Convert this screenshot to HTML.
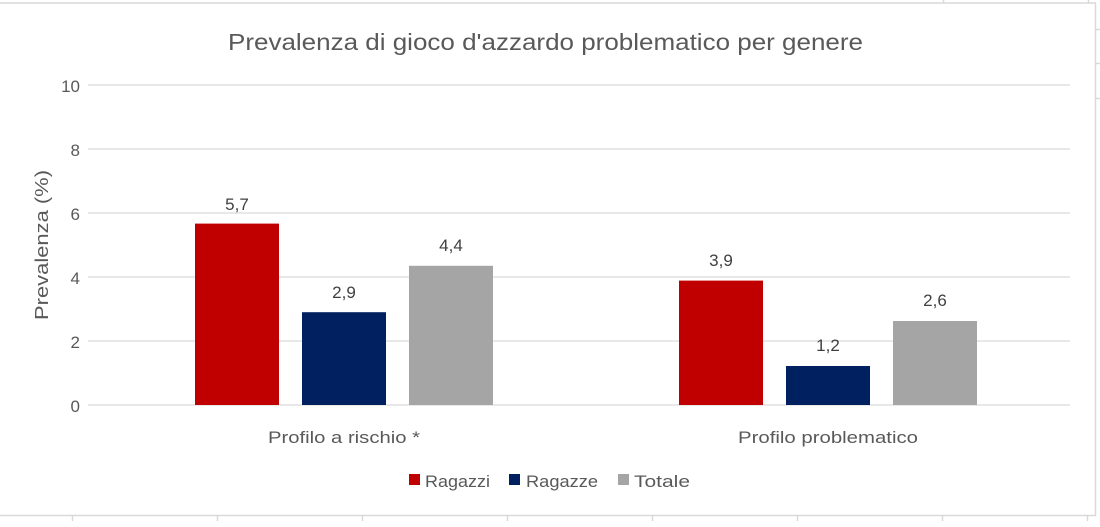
<!DOCTYPE html>
<html><head><style>
body{margin:0;background:#fff;}
svg text{font-family:"Liberation Sans",sans-serif;}
</style></head><body>
<svg width="1100" height="522" xmlns="http://www.w3.org/2000/svg">
<rect width="1100" height="522" fill="#fff"/>
<g stroke="#d9d9d9" stroke-width="1.5">
<line x1="0" y1="3" x2="1096" y2="3"/>
<line x1="1095.5" y1="3" x2="1095.5" y2="516"/>
<line x1="0" y1="515.5" x2="1096" y2="515.5"/>
<line x1="72.5" y1="515" x2="72.5" y2="521"/>
<line x1="217.5" y1="515" x2="217.5" y2="521"/>
<line x1="362.5" y1="515" x2="362.5" y2="521"/>
<line x1="507.5" y1="515" x2="507.5" y2="521"/>
<line x1="652.5" y1="515" x2="652.5" y2="521"/>
<line x1="797.5" y1="515" x2="797.5" y2="521"/>
<line x1="942.5" y1="515" x2="942.5" y2="521"/>
<line x1="1087.5" y1="515" x2="1087.5" y2="521"/>
<line x1="943.5" y1="0" x2="943.5" y2="3"/>
<line x1="1088.5" y1="0" x2="1088.5" y2="3"/>
<line x1="1095" y1="29.5" x2="1100" y2="29.5"/>
<line x1="1095" y1="63.5" x2="1100" y2="63.5"/>
<line x1="1095" y1="98.5" x2="1100" y2="98.5"/>
</g>
<g stroke="#d9d9d9" stroke-width="1.3">
<line x1="88" y1="85" x2="1070" y2="85"/>
<line x1="88" y1="149" x2="1070" y2="149"/>
<line x1="88" y1="213" x2="1070" y2="213"/>
<line x1="88" y1="277" x2="1070" y2="277"/>
<line x1="88" y1="341" x2="1070" y2="341"/>
<line x1="88" y1="405" x2="1070" y2="405"/>
</g>
<text x="228" y="50" font-size="23" fill="#595959" textLength="635" lengthAdjust="spacingAndGlyphs">Prevalenza di gioco d'azzardo problematico per genere</text>
<g font-size="17" fill="#595959" text-anchor="end">
<text x="80" y="92">10</text><text x="80" y="156">8</text><text x="80" y="220">6</text>
<text x="80" y="284">4</text><text x="80" y="348">2</text><text x="80" y="412">0</text>
</g>
<text transform="translate(48,245) rotate(-90)" font-size="18" fill="#595959" text-anchor="middle" textLength="150" lengthAdjust="spacingAndGlyphs">Prevalenza (%)</text>
<rect x="195" y="223.6" width="84" height="181.4" fill="#c00000"/>
<rect x="302" y="312.2" width="84" height="92.8" fill="#002060"/>
<rect x="409" y="265.8" width="84" height="139.2" fill="#a5a5a5"/>
<rect x="679" y="280.6" width="84" height="124.4" fill="#c00000"/>
<rect x="786" y="366" width="84" height="39" fill="#002060"/>
<rect x="893" y="321" width="84" height="84" fill="#a5a5a5"/>
<g font-size="17" fill="#404040" text-anchor="middle">
<text x="237" y="210">5,7</text><text x="344" y="298">2,9</text><text x="451" y="251">4,4</text>
<text x="721" y="266">3,9</text><text x="828" y="351">1,2</text><text x="935" y="306">2,6</text>
</g>
<g font-size="17" fill="#595959">
<text x="268" y="443" textLength="152" lengthAdjust="spacingAndGlyphs">Profilo a rischio *</text>
<text x="738" y="443" textLength="180" lengthAdjust="spacingAndGlyphs">Profilo problematico</text>
</g>
<g font-size="17" fill="#595959">
<rect x="409" y="474" width="11" height="11" fill="#c00000"/><text x="425" y="487" textLength="65" lengthAdjust="spacingAndGlyphs">Ragazzi</text>
<rect x="509" y="474" width="11" height="11" fill="#002060"/><text x="526" y="487" textLength="72" lengthAdjust="spacingAndGlyphs">Ragazze</text>
<rect x="618" y="474" width="11" height="11" fill="#a5a5a5"/><text x="634" y="487" textLength="56" lengthAdjust="spacingAndGlyphs">Totale</text>
</g>
</svg>
</body></html>
